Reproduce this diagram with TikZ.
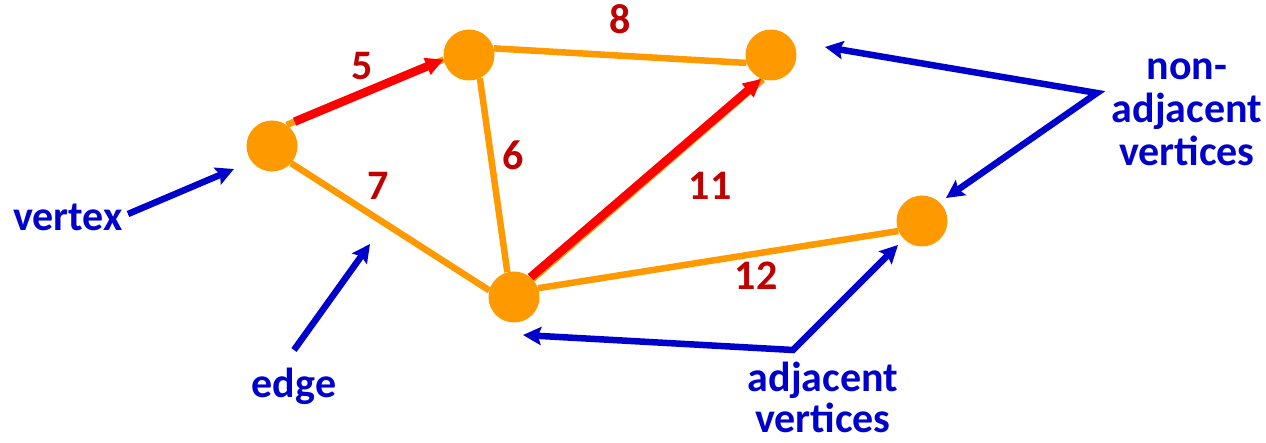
\documentclass[tikz,border=0pt]{standalone}
\usepackage{fontspec}
\setmainfont{Carlito}
\usetikzlibrary{arrows.meta,backgrounds,calc}
\definecolor{vorange}{HTML}{FF9900}
\definecolor{ered}{HTML}{FF0000}
\definecolor{wred}{HTML}{C00000}
\definecolor{nblue}{HTML}{0000CC}
\tikzset{
  vert/.style={circle,fill=vorange,minimum size=51pt,inner sep=0pt},
  link/.style={draw=vorange,line width=6.5pt},
  chosen/.style={draw=ered,line width=8.5pt,-{Triangle[length=18pt,width=17pt]}},
  weight/.style={text=wred,font=\fontsize{42}{42}\selectfont\bfseries,anchor=base,inner sep=0pt},
  note/.style={text=nblue,font=\fontsize{42}{43}\selectfont\bfseries,anchor=base,inner sep=0pt,align=center},
  pointer/.style={draw=nblue,line width=6.5pt,-{Stealth[length=18pt,width=18pt,inset=3pt]}},
  twopointer/.style={draw=nblue,line width=6.5pt,{Stealth[length=18pt,width=18pt,inset=3pt]}-{Stealth[length=18pt,width=18pt,inset=3pt]}}
}
\begin{document}
\begin{tikzpicture}[x=1pt,y=-1pt]
\useasboundingbox (0,0) rectangle (1266,443);

% vertices
\node[vert] (A) at (272,146) {};
\node[vert] (B) at (469,55) {};
\node[vert] (C) at (771,55) {};
\node[vert] (D) at (922,221) {};
\node[vert] (E) at (514,297) {};

% edges, kept behind the vertices
\begin{pgfonlayer}{background}
  \draw[link] (A.55) -- (B.190);
  \draw[link] (B.15) -- (C.198);
  \draw[link] (B.-65) -- (E.105);
  \draw[link] (A.-42) -- (E.165);
  \draw[link] (E.44) -- (C.252);
  \draw[link] (E.20) -- (D.203);
  \draw[chosen] ($(A.55)!0.05!(B.190)$) -- (B.190);
  \draw[chosen] (E.50) -- (C.248);
\end{pgfonlayer}

% weights
\node[weight] (w5) at (362,80) {5};
\node[weight] (w8) at (620,34) {8};
\node[weight] (w6) at (513,170) {6};
\node[weight] (w7) at (378,200) {7};
\node[weight] (w11) at (710,200) {11};
\node[weight] (w12) at (756,290) {12};

% annotations (base = baseline of the last line)
\node[note] (lvertex) at (68,231) {vertex};
\node[note] (ledge) at (294,398) {edge};
\node[note] (lnonadj) at (1187,166) {non-\\adjacent\\vertices};
\node[note,font=\fontsize{42}{41}\selectfont\bfseries] (ladj) at (823,432) {adjacent\\vertices};

\coordinate (vtail) at (128,214);
\coordinate (vtip) at (234,169);
\coordinate (etail) at (294,350);
\coordinate (etip) at (370,244);
\coordinate (nj) at (1097,93);
\coordinate (n1) at (825,47);
\coordinate (n2) at (946,198);
\coordinate (aj) at (793,350);
\coordinate (a1) at (898,245);
\coordinate (a2) at (523,335);

\draw[pointer] (vtail) -- (vtip);
\draw[pointer] (etail) -- (etip);
\draw[twopointer] (n1) -- (nj) -- (n2);
\draw[twopointer] (a2) -- (aj) -- (a1);
\end{tikzpicture}
\end{document}
